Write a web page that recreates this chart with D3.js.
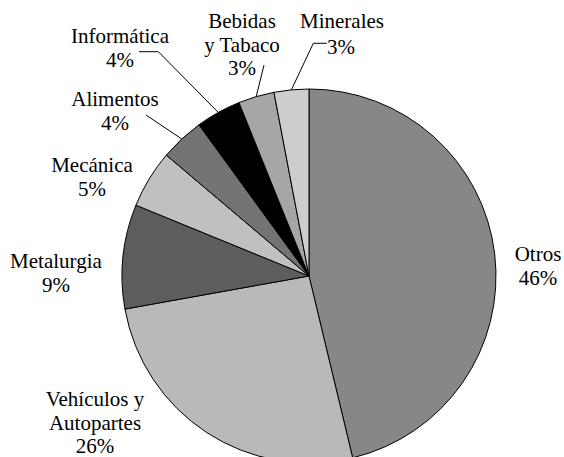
<!DOCTYPE html>
<html>
<head>
<meta charset="utf-8">
<script src="https://cdn.jsdelivr.net/npm/d3@7/dist/d3.min.js"></script>
<style>
  body { margin: 0; background: #fff; }
</style>
</head>
<body>
<script>
// sectors, clockwise from 12 o'clock
var categories = ["Otros", "Vehículos y Autopartes", "Metalurgia", "Mecánica", "Alimentos", "Informática", "Bebidas y Tabaco", "Minerales"];
var shares = [46.2, 25.9, 9.0, 5.0, 3.8, 3.9, 3.1, 3.0];
var shareLabels = ["46%", "26%", "9%", "5%", "4%", "4%", "3%", "3%"];
var labelLines = [
  ["Otros"],
  ["Vehículos y", "Autopartes"],
  ["Metalurgia"],
  ["Mecánica"],
  ["Alimentos"],
  ["Informática"],
  ["Bebidas", "y Tabaco"],
  ["Minerales"]
];
var fills = ["#878787", "#b9b9b9", "#5d5d5d", "#c0c0c0", "#747474", "#000000", "#a6a6a6", "#cdcdcd"];

// label anchors (centre x, first baseline) and leader line starts
var labelPos = [
  { x: 538, y: 261 },
  { x: 95, y: 406 },
  { x: 56, y: 268 },
  { x: 92, y: 172 },
  { x: 115, y: 106 },
  { x: 120, y: 43 },
  { x: 242, y: 28 },
  { x: 342, y: 28, shareX: 341, shareY: 54 }
];
var leaders = [
  null, null, null, null,
  { pts: [[146, 115]] },
  { pts: [[139, 51.7], [158.3, 51.7]] },
  { pts: [[264, 65]] },
  { pts: [[326.7, 43.3], [313.3, 43.3]] }
];

var svgWidth = 564;
var svgHeight = 457;
var cx = 309, cy = 276, radius = 187;
var lineGap = 23.5;
var fontFamily = "'Liberation Serif', 'Times New Roman', Tinos, serif";

var svg = d3.select("body")
  .append("svg")
  .attr("width", svgWidth)
  .attr("height", svgHeight);

var pieGroup = svg.append("g")
  .attr("transform", `translate(${cx}, ${cy})`);

var data = categories.map(function (c, i) {
  return { name: c, value: shares[i], fill: fills[i], i: i };
});

var pie = d3.pie().sort(null).value(function (d) { return d.value; });
var arc = d3.arc().innerRadius(0).outerRadius(radius);
var arcs = pie(data);

pieGroup.selectAll("path")
  .data(arcs)
  .enter()
  .append("path")
  .attr("d", arc)
  .attr("fill", function (d) { return d.data.fill; })
  .attr("stroke", "#000")
  .attr("stroke-width", 1);

// leader lines: from label to the slice edge at its mid angle
arcs.forEach(function (a, i) {
  if (!leaders[i]) return;
  var mid = (a.startAngle + a.endAngle) / 2;
  var end = [cx + radius * Math.sin(mid), cy - radius * Math.cos(mid)];
  var pts = leaders[i].pts.concat([end]);
  svg.append("path")
    .attr("d", d3.line()(pts))
    .attr("fill", "none")
    .attr("stroke", "#000")
    .attr("stroke-width", 1);
});

// labels
function addText(x, y, str) {
  svg.append("text")
    .attr("x", x)
    .attr("y", y)
    .attr("text-anchor", "middle")
    .style("font-family", fontFamily)
    .style("font-size", "21px")
    .attr("fill", "#000")
    .text(str);
}

arcs.forEach(function (a, i) {
  var p = labelPos[i];
  labelLines[i].forEach(function (line, k) {
    addText(p.x, p.y + k * lineGap, line);
  });
  addText(p.shareX !== undefined ? p.shareX : p.x,
    p.shareY !== undefined ? p.shareY : p.y + labelLines[i].length * lineGap,
    shareLabels[i]);
});
</script>
</body>
</html>
